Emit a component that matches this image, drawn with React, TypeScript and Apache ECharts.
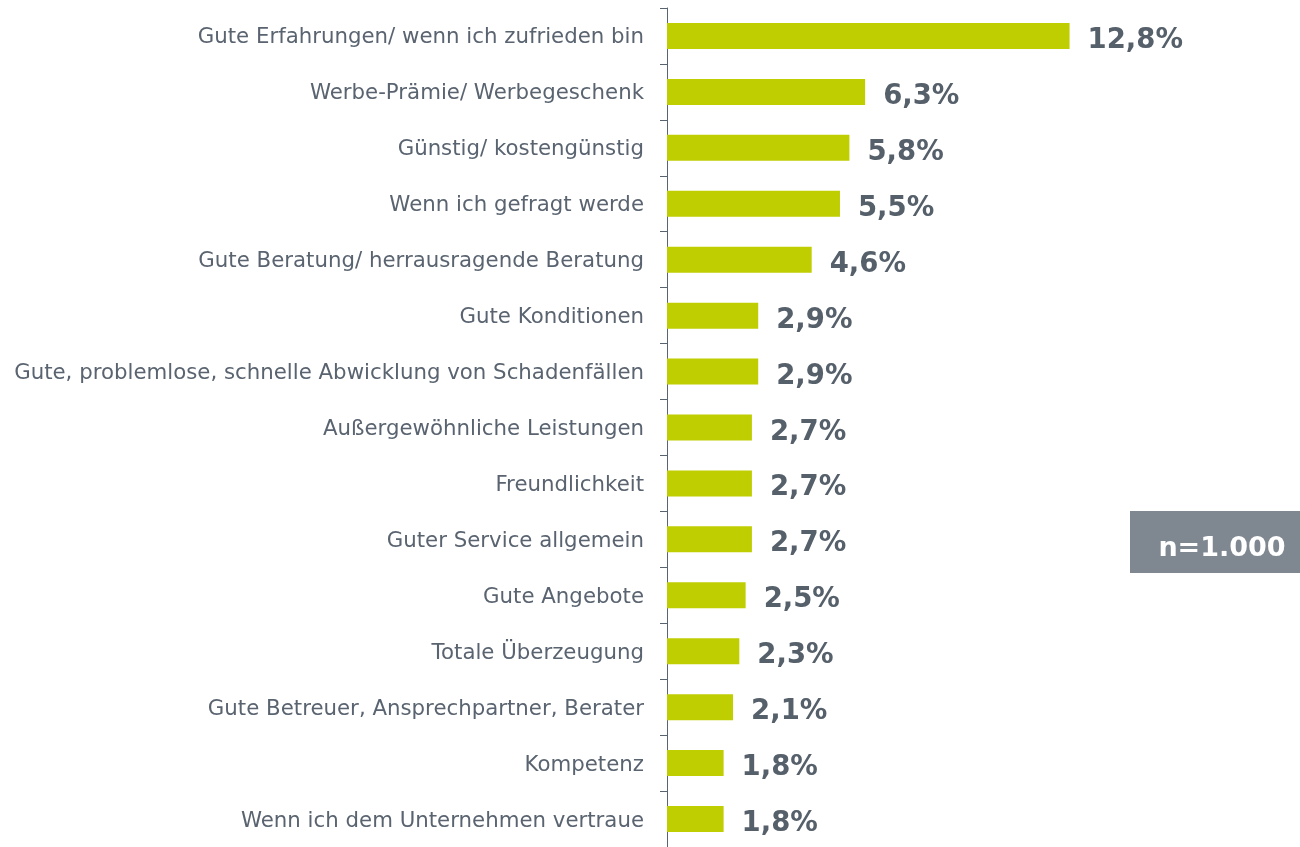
import React, { useEffect, useRef } from "react";
import * as echarts from "echarts";

const categories = [
  "Gute Erfahrungen/ wenn ich zufrieden bin",
  "Werbe-Prämie/ Werbegeschenk",
  "Günstig/ kostengünstig",
  "Wenn ich gefragt werde",
  "Gute Beratung/ herrausragende Beratung",
  "Gute Konditionen",
  "Gute, problemlose, schnelle Abwicklung von Schadenfällen",
  "Außergewöhnliche Leistungen",
  "Freundlichkeit",
  "Guter Service allgemein",
  "Gute Angebote",
  "Totale Überzeugung",
  "Gute Betreuer, Ansprechpartner, Berater",
  "Kompetenz",
  "Wenn ich dem Unternehmen vertraue",
];

const values = [12.8, 6.3, 5.8, 5.5, 4.6, 2.9, 2.9, 2.7, 2.7, 2.7, 2.5, 2.3, 2.1, 1.8, 1.8];

const sampleNote = "n=1.000";

export default function App() {
  const ref = useRef<HTMLDivElement>(null);

  useEffect(() => {
    if (!ref.current) return;
    const chart = echarts.init(ref.current, null, { renderer: "svg" });
    chart.setOption({
      animation: false,
      grid: { left: 667, top: 8, width: 629, height: 839, containLabel: false },
      xAxis: {
        type: "value",
        min: 0,
        max: 20,
        show: false,
      },
      yAxis: {
        type: "category",
        data: categories,
        inverse: true,
        axisLine: { show: true, lineStyle: { color: "#5a6470", width: 1 } },
        axisTick: { show: true, length: 7, lineStyle: { color: "#5a6470" } },
        axisLabel: {
          margin: 23,
          fontFamily: "DejaVu Sans",
          fontSize: 21.3,
          color: "#5a6470",
        },
      },
      series: [
        {
          type: "bar",
          data: values,
          barWidth: 26,
          itemStyle: { color: "#bfce00" },
          label: {
            show: true,
            position: "right",
            distance: 18,
            offset: [0, 2],
            fontFamily: "DejaVu Sans",
            fontWeight: "bold",
            fontSize: 27.5,
            color: "#56606b",
            formatter: (p: any) => String(p.value.toFixed(1)).replace(".", ",") + "%",
          },
        },
      ],
      graphic: [
        {
          type: "rect",
          shape: { x: 1130, y: 511, width: 170, height: 62 },
          style: { fill: "#7f8790" },
        },
        {
          type: "text",
          x: 1222,
          y: 546,
          style: {
            text: sampleNote,
            fontFamily: "DejaVu Sans",
            fontWeight: "bold",
            fontSize: 27,
            fill: "#ffffff",
            align: "center",
            verticalAlign: "middle",
          },
        },
      ],
    });
    return () => chart.dispose();
  }, []);

  return (
    <div
      ref={ref}
      style={{ position: "fixed", left: 0, top: 0, width: 1300, height: 847 }}
    />
  );
}
